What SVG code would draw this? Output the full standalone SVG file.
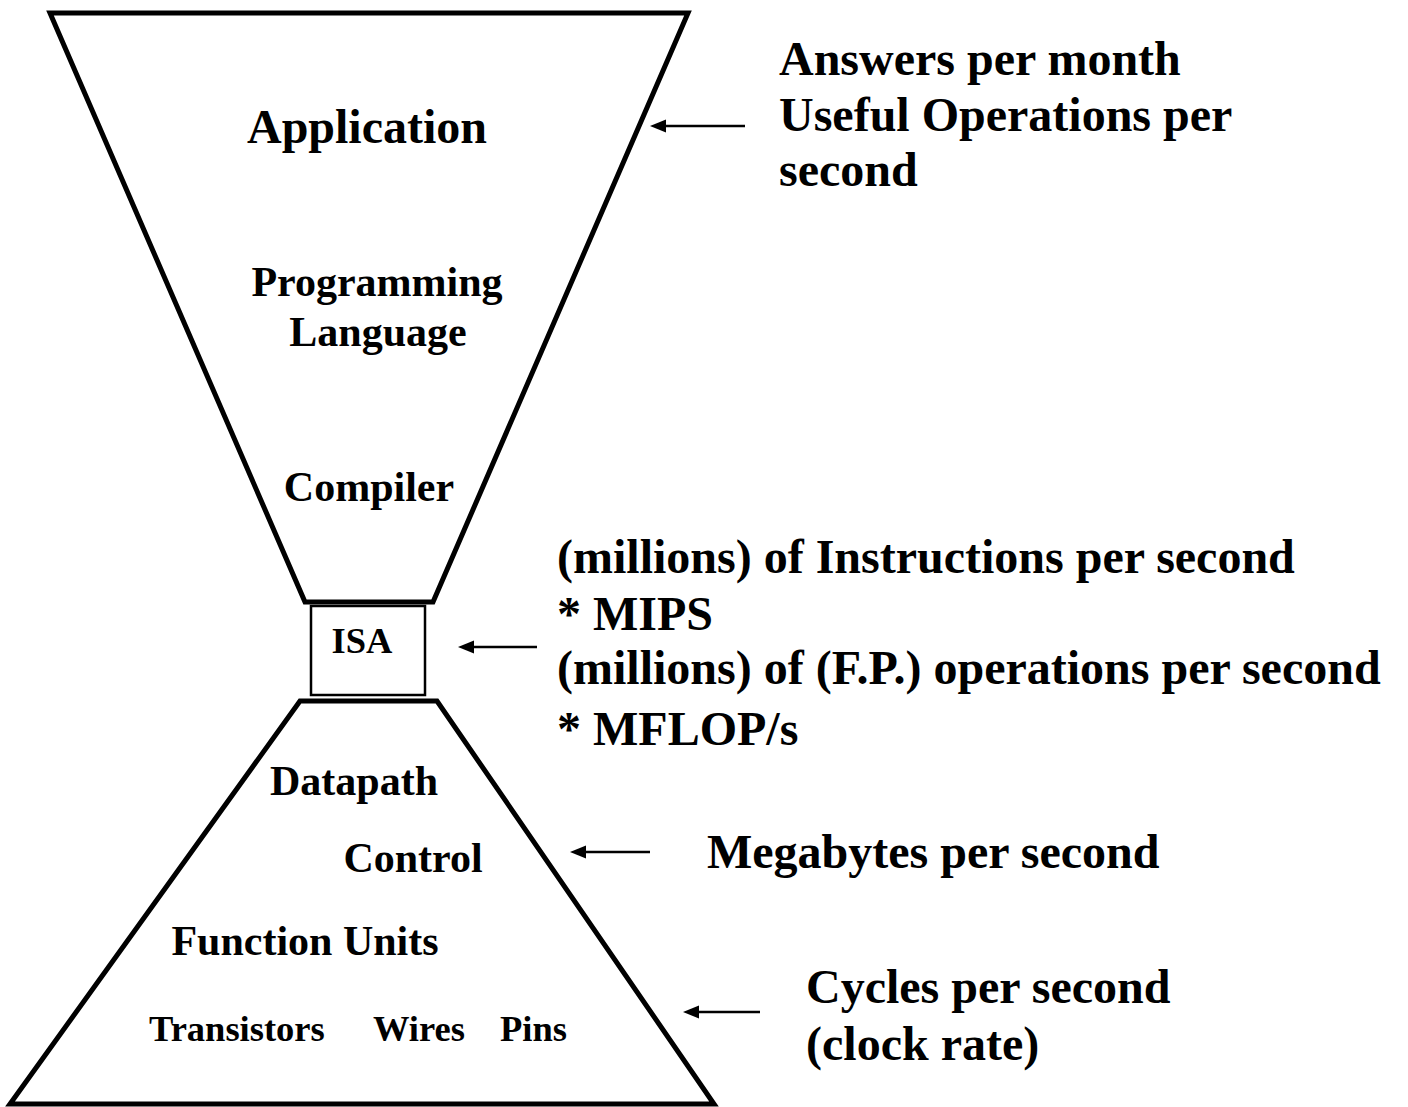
<svg xmlns="http://www.w3.org/2000/svg" width="1408" height="1107" viewBox="0 0 1408 1107">
<defs>
<style>
.shape{fill:none;stroke:#000;stroke-width:5;stroke-linejoin:miter}
.box{fill:none;stroke:#000;stroke-width:2.5}
text{font-family:"Liberation Serif","Times New Roman",serif;font-weight:bold;fill:#000}
.l{font-size:48px}
.m{font-size:42px}
.s{font-size:36.5px}
.conn line{stroke:#000;stroke-width:2.5}
.conn polygon{fill:#000;stroke:none}
</style>
</defs>
<rect width="1408" height="1107" fill="#fff"/>
<g id="upper">
<polygon class="shape" points="50,13 688,13 433,602 305,602"/>
<text class="l" x="367" y="143" text-anchor="middle">Application</text>
<text class="m" x="377" y="296" text-anchor="middle">Programming</text>
<text class="m" x="378" y="346" text-anchor="middle">Language</text>
<text class="m" x="369" y="501" text-anchor="middle">Compiler</text>
</g>
<g id="isa">
<rect class="box" x="311" y="606" width="114" height="89"/>
<text class="s" x="362" y="653" text-anchor="middle">ISA</text>
</g>
<g id="lower">
<polygon class="shape" points="300,701 437,701 714,1104 10,1104"/>
<text class="m" x="354" y="795" text-anchor="middle">Datapath</text>
<text class="m" x="413" y="872" text-anchor="middle">Control</text>
<text class="m" x="305" y="955" text-anchor="middle">Function Units</text>
<text class="s" x="149" y="1041">Transistors</text>
<text class="s" x="373" y="1041">Wires</text>
<text class="s" x="500" y="1041">Pins</text>
</g>
<g id="labels">
<text class="l" x="779" y="75">Answers per month</text>
<text class="l" x="779" y="131">Useful Operations per</text>
<text class="l" x="779" y="186">second</text>
<text class="l" x="557" y="573">(millions) of Instructions per second</text>
<text class="l" x="557" y="630">* MIPS</text>
<text class="l" x="557" y="684">(millions) of (F.P.) operations per second</text>
<text class="l" x="557" y="745">* MFLOP/s</text>
<text class="l" x="707" y="868">Megabytes per second</text>
<text class="l" x="806" y="1003">Cycles per second</text>
<text class="l" x="806" y="1060">(clock rate)</text>
</g>
<g id="connectors" class="conn">
<line x1="745" y1="126" x2="662" y2="126"/>
<polygon points="650,126 666,119.5 666,132.5"/>
<line x1="537" y1="647" x2="470" y2="647"/>
<polygon points="458,647 474,640.5 474,653.5"/>
<line x1="650" y1="852" x2="582" y2="852"/>
<polygon points="570,852 586,845.5 586,858.5"/>
<line x1="760" y1="1012" x2="695" y2="1012"/>
<polygon points="683,1012 699,1005.5 699,1018.5"/>
</g>
</svg>
